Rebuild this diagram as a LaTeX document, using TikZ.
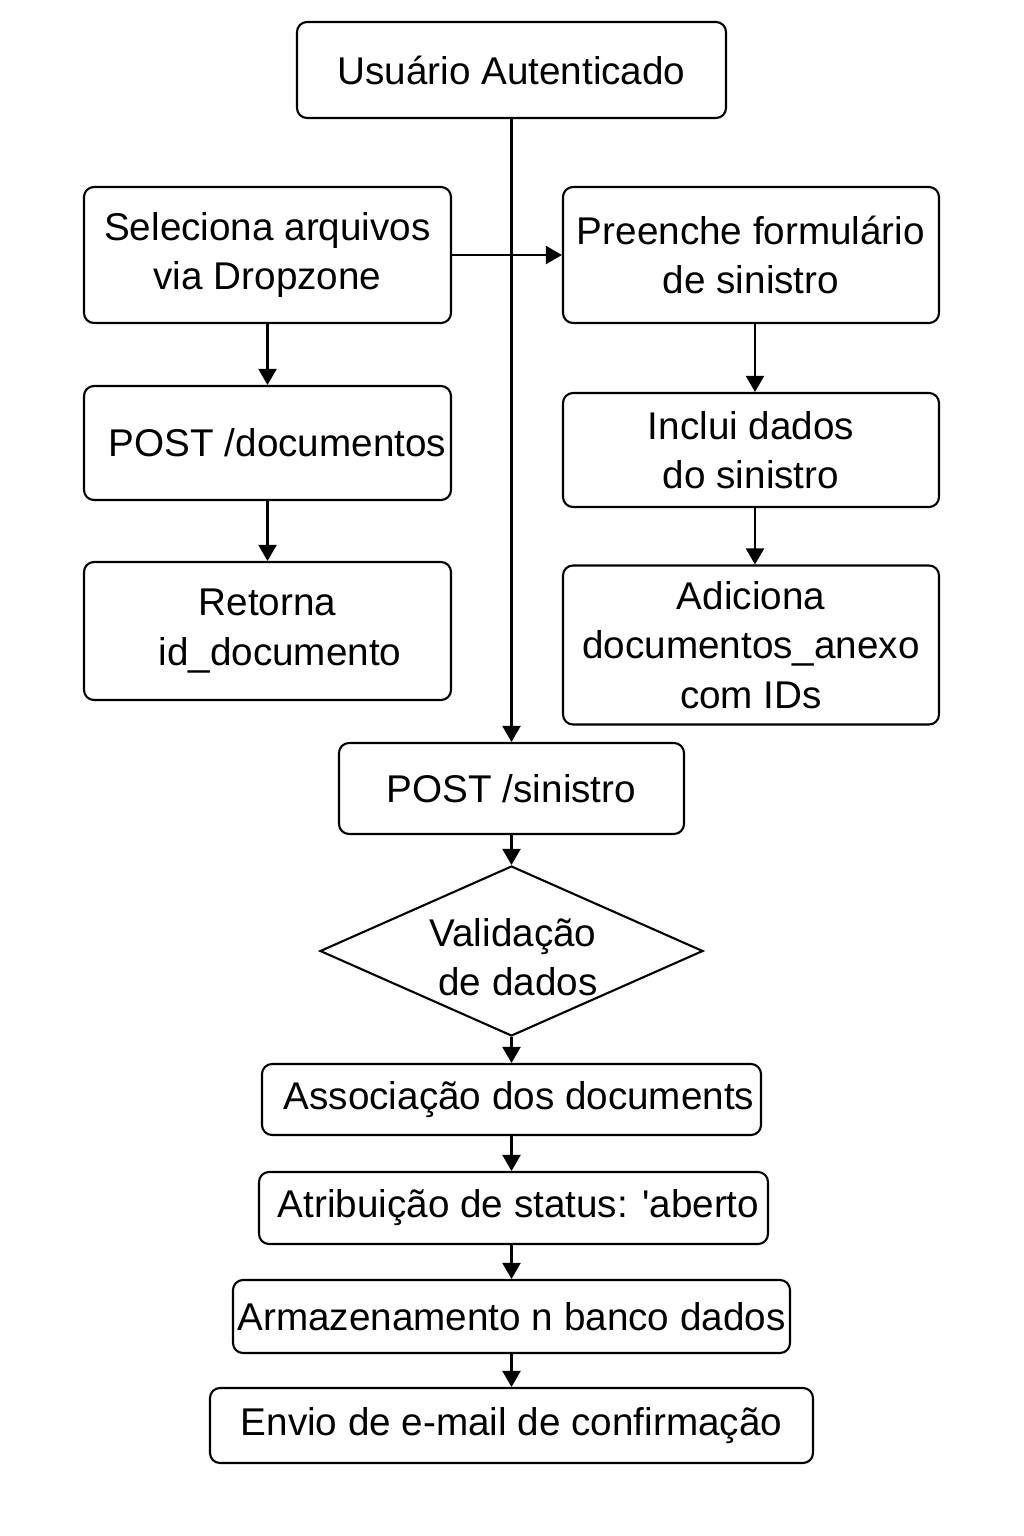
\documentclass[tikz,border=0pt]{standalone}
\usepackage{fontspec}
\setmainfont{Liberation Sans}[Ligatures=TeXOff]
\usetikzlibrary{shapes.geometric,arrows.meta}
\begin{document}
\begin{tikzpicture}[x=0.02cm,y=-0.02cm,
  box/.style 2 args={draw, line width=1.2pt, rounded corners=0.2cm, align=center,
    minimum width={#1*0.02cm}, minimum height={#2*0.02cm}, inner sep=0pt,
    font=\fontsize{22}{28}\selectfont},
  arr/.style={line width=1.2pt, -{Triangle[length=0.32cm,width=0.36cm]}}]
\useasboundingbox (0,0) rectangle (1024,1536);
\node[box={429}{96}] (usr) at (511.5,70) {Usuário Autenticado};
\node[box={367}{136}] (sel) at (267.5,255) {Seleciona arquivos\\via Dropzone};
\node[box={376}{136}] (pre) at (751,255) {Preenche formulário\\de sinistro};
\node[box={367}{114}] (pd) at (267.5,443) {\hspace*{0.4cm}POST /documentos};
\node[box={367}{138}] (ret) at (267.5,631) {Retorna\\\hspace*{0.5cm}id\_documento};
\node[box={376}{114}] (inc) at (751,450) {Inclui dados\\do sinistro};
\node[box={376}{159}] (adi) at (751,645) {Adiciona\\documentos\_anexo\\com IDs};
\node[box={345}{91}] (sin) at (511.5,788.5) {POST /sinistro};
\node[diamond, draw, line width=1.2pt, minimum width={383*0.02cm}, minimum height={170*0.02cm}, inner sep=0pt] (val) at (511.5,951) {};
\node[align=center, font=\fontsize{22}{28}\selectfont] (valt) at (513,957) {Validação\\\hspace*{0.2cm}de dados};
\node[box={499}{71}] (ass) at (511.5,1099.5) {\hspace*{0.3cm}Associação dos documents};
\node[box={509}{72}] (atr) at (513.5,1208) {\hspace*{0.2cm}Atribuição de status: 'aberto};
\node[box={557}{73}] (arm) at (511.5,1316.5) {Armazenamento n banco dados};
\node[box={603}{75}] (env) at (511.5,1425.5) {Envio de e-mail de confirmação};
\draw[arr] (usr.south) -- (sin.north);
\draw[arr] (sel.east) -- (pre.west);
\draw[arr] (sel.south) -- (pd.north);
\draw[arr] (pd.south) -- (ret.north);
\draw[arr] ([xshift=0.08cm]pre.south) -- ([xshift=0.08cm]inc.north);
\draw[arr] ([xshift=0.08cm]inc.south) -- ([xshift=0.08cm]adi.north);
\draw[arr] (sin.south) -- (val.north);
\draw[arr] (val.south) -- (ass.north);
\draw[arr] (ass.south) -- (ass.south |- atr.north);
\draw[arr] (ass.south |- atr.south) -- (arm.north);
\draw[arr] (arm.south) -- (env.north);
\end{tikzpicture}
\end{document}
